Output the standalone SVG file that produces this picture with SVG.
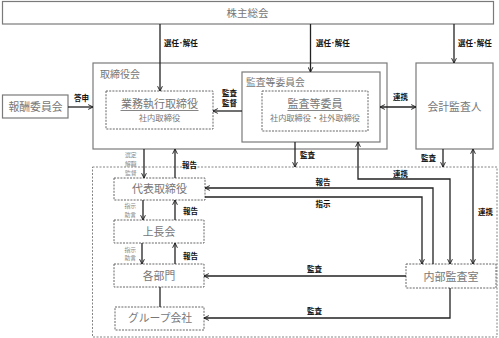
<svg xmlns="http://www.w3.org/2000/svg" width="499" height="338" viewBox="0 0 499 338">
<defs>
<marker id="arr" viewBox="0 0 10 10" refX="9" refY="5" markerWidth="6" markerHeight="6" orient="auto-start-reverse" markerUnits="userSpaceOnUse">
<path d="M1,1 L9,5 L1,9" fill="none" stroke="#222" stroke-width="1.6"/>
</marker>
<style>
.box{fill:#fff;stroke:#7a7a7a;stroke-width:1.2}
.dbox{fill:#fff;stroke:#666;stroke-width:1;stroke-dasharray:2 1.2}
.reg{fill:none;stroke:#777;stroke-width:0.9;stroke-dasharray:2 1.5}
.t{font-family:"Noto Sans CJK JP","Liberation Sans",sans-serif;fill:#777;text-anchor:middle}
.tl{font-family:"Noto Sans CJK JP","Liberation Sans",sans-serif;fill:#777}
.lb{font-family:"Noto Sans CJK JP","Liberation Sans",sans-serif;fill:#111;font-weight:bold;font-size:7.5px}
.sm{font-family:"Noto Sans CJK JP","Liberation Sans",sans-serif;fill:#888;font-size:5.8px}
.c path{fill:none;stroke:#222;stroke-width:1.3}
.ul{stroke:#666;stroke-width:0.8}
</style>
</defs>
<rect width="499" height="338" fill="#fff"/>
<rect class="reg" x="92.5" y="167" width="404.5" height="170"/>

<g id="shareholders"><rect class="box" x="2.5" y="1.5" width="491" height="22.5"/><text class="t" x="247.5" y="17" font-size="10.5">株主総会</text></g>
<g id="board"><rect class="box" x="93" y="63" width="294" height="86"/><text class="tl" x="100" y="78" font-size="10">取締役会</text></g>
<g id="audit-committee"><rect class="box" x="242" y="72" width="138" height="70"/><text class="tl" x="246" y="86" font-size="9.8">監査等委員会</text></g>
<g id="exec-directors"><rect class="dbox" x="106" y="91" width="107" height="38"/><text class="t" x="159.5" y="108" font-size="11" fill="#666">業務執行取締役</text><line class="ul" x1="120.5" y1="110.5" x2="198.5" y2="110.5"/><text class="t" x="159.5" y="121" font-size="8.3">社内取締役</text></g>
<g id="audit-members"><rect class="dbox" x="262" y="91" width="106" height="40"/><text class="t" x="315" y="108" font-size="11" fill="#666">監査等委員</text><line class="ul" x1="287.5" y1="110.5" x2="342.5" y2="110.5"/><text class="t" x="315" y="121" font-size="8.2">社内取締役・社外取締役</text></g>
<g id="compensation"><rect class="box" x="2.5" y="95" width="65.5" height="23"/><text class="t" x="35.5" y="111" font-size="10.8">報酬委員会</text></g>
<g id="accounting-auditor"><rect class="box" x="416" y="63" width="77" height="86"/><text class="t" x="454.5" y="111" font-size="10.8">会計監査人</text></g>
<g id="ceo"><rect class="dbox" x="114" y="178" width="91" height="22"/><text class="t" x="159.5" y="193" font-size="11">代表取締役</text></g>
<g id="managers"><rect class="dbox" x="114" y="220" width="90" height="23"/><text class="t" x="159" y="236" font-size="10.8">上長会</text></g>
<g id="departments"><rect class="dbox" x="114" y="264" width="90" height="23"/><text class="t" x="159" y="280" font-size="10.8">各部門</text></g>
<g id="group"><rect class="dbox" x="115" y="307" width="89" height="23"/><text class="t" x="160" y="322" font-size="10.8">グループ会社</text></g>
<g id="internal-audit"><rect class="dbox" x="406" y="264" width="90" height="24"/><text class="t" x="451" y="280.5" font-size="11">内部監査室</text></g>

<g id="connectors" class="c">
<path d="M160,24 V91" marker-end="url(#arr)"/>
<path d="M310.5,24 V72" marker-end="url(#arr)"/>
<path d="M454,24 V63" marker-end="url(#arr)"/>
<path d="M68,107 H93" marker-end="url(#arr)"/>
<path d="M242,111 H213" marker-end="url(#arr)"/>
<path d="M380,107 H416" marker-start="url(#arr)" marker-end="url(#arr)"/>
<path d="M144,149 V178" marker-end="url(#arr)"/>
<path d="M175,178 V149" marker-end="url(#arr)"/>
<path d="M295,142 V167" marker-end="url(#arr)"/>
<path d="M443,149 V167" marker-end="url(#arr)"/>
<path d="M358,142 V179 H450 V264" marker-start="url(#arr)" marker-end="url(#arr)"/>
<path d="M473,149 V264" marker-start="url(#arr)" marker-end="url(#arr)"/>
<path d="M433,264 V188 H205" marker-end="url(#arr)"/>
<path d="M205,197 H422 V264" marker-end="url(#arr)"/>
<path d="M143,200 V220" marker-end="url(#arr)"/>
<path d="M175,220 V200" marker-end="url(#arr)"/>
<path d="M142,243 V264" marker-end="url(#arr)"/>
<path d="M175,264 V243" marker-end="url(#arr)"/>
<path d="M160,287 V307"/>
<path d="M406,276 H204" marker-end="url(#arr)"/>
<path d="M450,288 V318 H204" marker-end="url(#arr)"/>
</g>

<g id="labels">
<text class="lb" x="164" y="46">選任･解任</text>
<text class="lb" x="316" y="46">選任･解任</text>
<text class="lb" x="458" y="46">選任･解任</text>
<text class="lb" x="74" y="101">答申</text>
<text class="lb" x="222" y="96">監査</text>
<text class="lb" x="222" y="105.5">監督</text>
<text class="lb" x="393" y="99.5">連携</text>
<text class="lb" x="300" y="158">監査</text>
<text class="lb" x="421" y="161">監査</text>
<text class="lb" x="182" y="168">報告</text>
<text class="sm" x="125" y="157">選定</text>
<text class="sm" x="125" y="166">解職</text>
<text class="sm" x="125" y="175">監督</text>
<text class="lb" x="393" y="177">連携</text>
<text class="lb" x="315.5" y="185">報告</text>
<text class="lb" x="315.5" y="207">指示</text>
<text class="lb" x="478" y="214.5">連携</text>
<text class="sm" x="124.5" y="208">指示</text>
<text class="sm" x="124.5" y="217">助言</text>
<text class="lb" x="183" y="213.5">報告</text>
<text class="sm" x="124.5" y="252">指示</text>
<text class="sm" x="124.5" y="260">助言</text>
<text class="lb" x="183" y="258.5">報告</text>
<text class="lb" x="307" y="272">監査</text>
<text class="lb" x="307" y="313.5">監査</text>
</g>
</svg>
